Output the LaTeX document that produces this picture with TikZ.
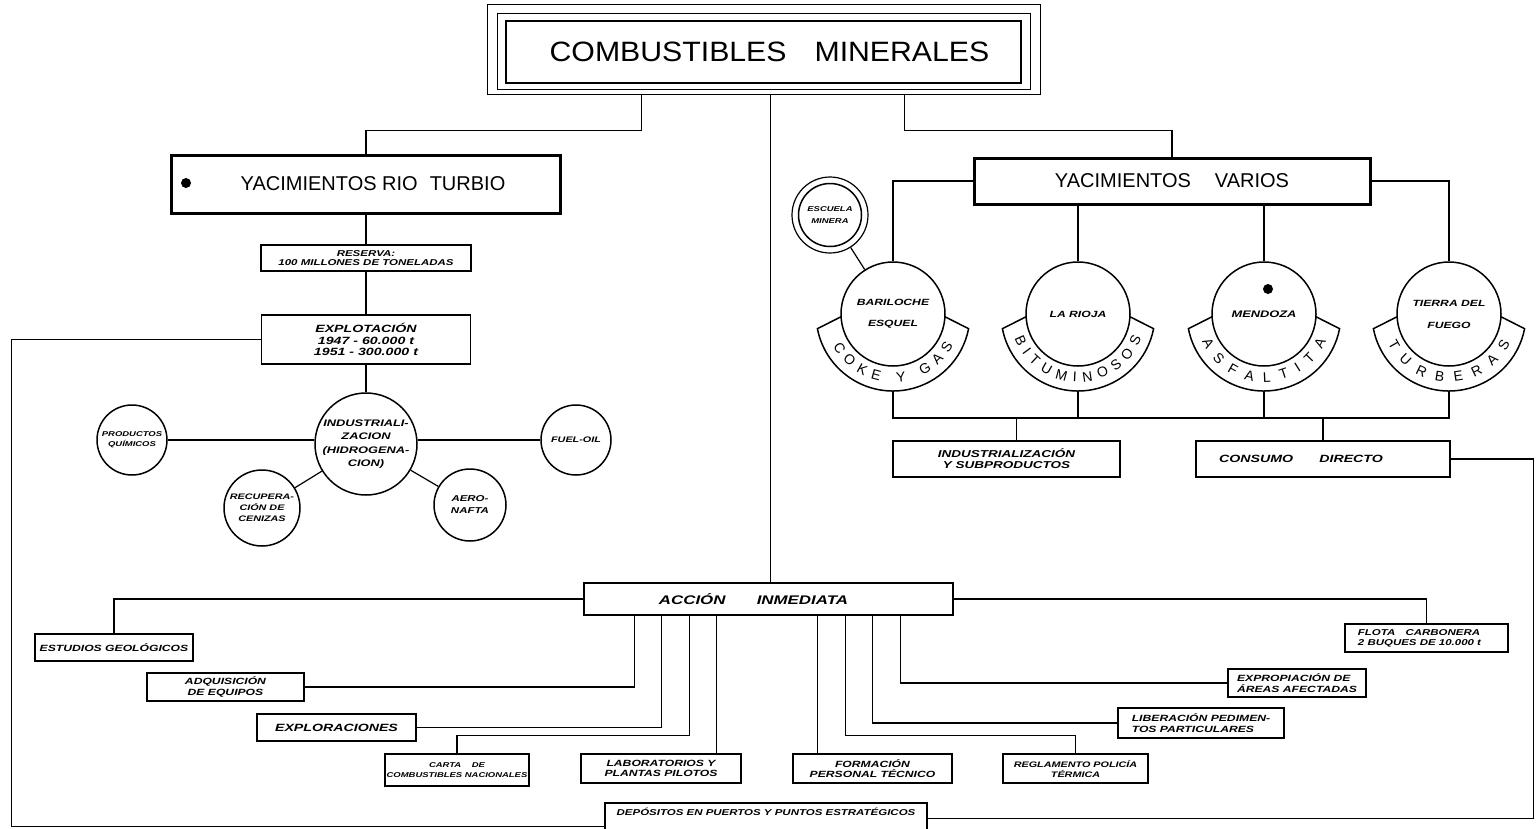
\documentclass[tikz,border=0pt]{standalone}
\usepackage{fontspec}
\setmainfont{Liberation Sans}
\newfontfamily\labf{Liberation Sans}[FakeStretch=1.35]
\newfontfamily\titf{Liberation Sans}[FakeStretch=1.08]
\usetikzlibrary{calc,decorations.text}
\newcommand\bandf{\fontsize{14}{14}\selectfont}
\tikzset{
  conn/.style={line width=1.2pt},
  wh/.style 2 args={minimum width=#1pt, minimum height=#2pt},
  lbox/.style={draw, line width=1.6pt, rectangle, inner sep=1pt, align=center,
    font=\labf\bfseries\itshape\fontsize{9}{10.5}\selectfont},
  bigbox/.style={draw, line width=3pt, rectangle, inner sep=0pt, align=center,
    font=\fontsize{20}{24}\selectfont},
  circ/.style={draw, line width=1.5pt, circle, inner sep=0pt, align=center,
    font=\labf\bfseries\itshape\fontsize{9}{11}\selectfont},
  band/.style={line width=1.5pt},
  dot/.style={circle, fill, inner sep=0pt, minimum size=10pt},
}
\begin{document}
\begin{tikzpicture}[x=1pt,y=1pt]
\fill[white] (0,0) rectangle (1540,-828);
\useasboundingbox (0,0) rectangle (1540,-828);

% title
\node[draw, line width=1pt, wh={553}{90}] (titleout) at (763.5,-49) {};
\node[draw, line width=1pt, wh={533}{76}] (titlemid) at (763.5,-51) {};
\node[draw, line width=2.5pt, wh={515}{62}, font=\titf\fontsize{28}{30}\selectfont] (title) at (763.5,-52) {\hspace*{12pt}COMBUSTIBLES\hspace{1em}MINERALES};
\coordinate (tl) at ($(titleout.south west)+(155,0)$);
\coordinate (tc) at ($(titleout.south west)+(284,0)$);
\coordinate (tr) at ($(titleout.south west)+(418,0)$);

% left: Rio Turbio
\node[bigbox, wh={389}{58}] (rio) at (366,-184) {\hspace*{14pt}YACIMIENTOS RIO\hspace{0.6em}TURBIO};
\node[dot] (riodot) at (186,-183) {};
\node[lbox, wh={210}{26}, font=\labf\bfseries\itshape\fontsize{8.5}{9.5}\selectfont] (res) at (366,-258) {RESERVA:\\100 MILLONES DE TONELADAS};
\node[lbox, wh={209}{49}, font=\labf\bfseries\itshape\fontsize{10.5}{11.5}\selectfont] (expl) at (366,-339.5) {EXPLOTACIÓN\\1947 - 60.000 t\\1951 - 300.000 t};
\node[circ, minimum size=102pt, font=\labf\bfseries\itshape\fontsize{9.5}{13.5}\selectfont] (ind) at (366,-444) {INDUSTRIALI-\\ZACION\\(HIDROGENA-\\CION)};
\node[circ, minimum size=70pt, font=\labf\bfseries\itshape\fontsize{7}{10}\selectfont] (prod) at (132,-440) {PRODUCTOS\\QUÍMICOS};
\node[circ, minimum size=70pt, font=\labf\bfseries\itshape\fontsize{8}{10}\selectfont] (fuel) at (576,-440) {FUEL-OIL};
\node[circ, minimum size=76pt, font=\labf\bfseries\itshape\fontsize{8}{11}\selectfont] (rec) at (262,-508) {RECUPERA-\\CIÓN DE\\CENIZAS};
\node[circ, minimum size=72pt, font=\labf\bfseries\itshape\fontsize{8.5}{12}\selectfont] (aero) at (470,-505) {AERO-\\NAFTA};

\draw[conn] (tl) -- ++(0,-36) -| (rio.north);
\draw[conn] (rio) -- (res);
\draw[conn] (res) -- (expl);
\draw[conn] (expl) -- (ind);
\draw[conn] (prod.east) -- (prod.east -| ind.west);
\draw[conn] (fuel.west) -- (fuel.west -| ind.east);
\draw[conn] (rec) -- (ind);
\draw[conn] (aero) -- (ind);

% right: Yacimientos varios
\node[bigbox, wh={396}{46}] (varios) at (1172,-181) {YACIMIENTOS\hspace{1.2em}VARIOS};
\draw[conn] (tr) -- ++(0,-36) -| (varios.north);
\node[circ, minimum size=104pt, font=\labf\bfseries\itshape\fontsize{9}{21}\selectfont] (bar) at (893,-314) {BARILOCHE\\ESQUEL};
\node[circ, minimum size=104pt] (rioja) at (1078,-314) {LA RIOJA};
\node[circ, minimum size=104pt, font=\labf\bfseries\itshape\fontsize{9.5}{11}\selectfont] (mend) at (1264,-314) {MENDOZA};
\node[dot] (mdot) at ($(mend)+(4,25)$) {};
\node[circ, minimum size=104pt, font=\labf\bfseries\itshape\fontsize{9}{22}\selectfont] (tdf) at (1449,-314) {TIERRA DEL\\FUEGO};
\node[circle, draw, line width=1.2pt, minimum size=76pt, inner sep=0pt] (esco) at (830,-215) {};
\node[circ, minimum size=63pt, font=\labf\bfseries\itshape\fontsize{7}{12}\selectfont] (esc) at (830,-215) {ESCUELA\\MINERA};
\draw[conn] (esco) -- (bar);

\draw[conn] (varios.west) -| (bar.north);
\draw[conn] (varios.east) -| (tdf.north);
\draw[conn] (varios.south -| rioja.north) -- (rioja.north);
\draw[conn] (varios.south -| mend.north) -- (mend.north);

\foreach \n in {bar,rioja,mend,tdf}{
  \draw[band] ($(\n)+(183:52)$) -- ($(\n)+(191:77)$) arc[start angle=191, end angle=349, radius=77] -- ($(\n)+(357:52)$);
}
\path[decorate, decoration={text along path, text={|\bandf|COKE Y GAS}, text align={fit to path}}]
  ($(bar)+(208:68)$) arc[start angle=208, end angle=332, radius=68];
\path[decorate, decoration={text along path, text={|\bandf|BITUMINOSOS}, text align={fit to path}}]
  ($(rioja)+(201:68)$) arc[start angle=201, end angle=339, radius=68];
\path[decorate, decoration={text along path, text={|\bandf|ASFALTITA}, text align={fit to path}}]
  ($(mend)+(204:68)$) arc[start angle=204, end angle=336, radius=68];
\path[decorate, decoration={text along path, text={|\bandf|TURBERAS}, text align={fit to path}}]
  ($(tdf)+(206:68)$) arc[start angle=206, end angle=334, radius=68];

\draw[conn] ($(bar)+(0,-77)$) -- ($(bar)+(0,-104)$) -- ($(tdf)+(0,-104)$) -- ($(tdf)+(0,-77)$);
\draw[conn] ($(rioja)+(0,-77)$) -- ($(rioja)+(0,-104)$);
\draw[conn] ($(mend)+(0,-77)$) -- ($(mend)+(0,-104)$);

\node[lbox, wh={227}{36}, font=\labf\bfseries\itshape\fontsize{10}{11}\selectfont] (indsub) at (1006.5,-459) {INDUSTRIALIZACIÓN\\Y SUBPRODUCTOS};
\node[lbox, wh={254}{36}, font=\labf\bfseries\itshape\fontsize{10.5}{11}\selectfont] (cons) at (1323,-459) {CONSUMO\hspace{2.5em}DIRECTO\hspace*{44pt}};
\draw[conn] ($(indsub.north)+(10,0)$) -- ++(0,23);
\draw[conn] (cons.north) -- ++(0,23);

% accion inmediata
\node[lbox, wh={369}{32}, font=\labf\bfseries\itshape\fontsize{12.5}{13}\selectfont] (acc) at (768.5,-599) {ACCIÓN\hspace{2.5em}INMEDIATA\hspace*{30pt}};
\draw[conn] (tc) -- (tc |- acc.north);

\node[lbox, wh={158}{27}] (est) at (114,-647.5) {ESTUDIOS GEOLÓGICOS};
\node[lbox, wh={157}{28}] (adq) at (225.5,-687) {ADQUISICIÓN\\DE EQUIPOS};
\node[lbox, wh={159}{27}, font=\labf\bfseries\itshape\fontsize{10.5}{11}\selectfont] (explo) at (336.5,-727.5) {EXPLORACIONES};
\node[lbox, wh={144}{32}, font=\labf\bfseries\itshape\fontsize{7}{10}\selectfont] (carta) at (457,-770) {CARTA\hspace{1.5em}DE\\COMBUSTIBLES NACIONALES};
\node[lbox, wh={160}{29}] (lab) at (661,-768.5) {LABORATORIOS Y\\PLANTAS PILOTOS};
\node[lbox, wh={159}{29}] (form) at (872.5,-768.5) {FORMACIÓN\\PERSONAL TÉCNICO};
\node[lbox, wh={145}{29}, font=\labf\bfseries\itshape\fontsize{8}{10}\selectfont] (regl) at (1075.5,-768.5) {REGLAMENTO POLICÍA\\TÉRMICA};
\node[lbox, wh={166}{30}, align=left] (lib) at (1201,-723) {LIBERACIÓN PEDIMEN-\\TOS PARTICULARES};
\node[lbox, wh={138}{28}, align=left] (expr) at (1297,-683) {EXPROPIACIÓN DE\\ÁREAS AFECTADAS};
\node[lbox, wh={163}{28}, align=left, font=\labf\bfseries\itshape\fontsize{8.5}{10}\selectfont] (flota) at (1426.5,-638) {FLOTA\hspace{1.2em}CARBONERA\\2 BUQUES DE 10.000 t\hspace*{14pt}};
\node[lbox, wh={322}{44}, anchor=north, text height=8pt, text depth=26pt, font=\labf\bfseries\itshape\fontsize{8.5}{10}\selectfont] (dep) at (766,-802) {DEPÓSITOS EN PUERTOS Y PUNTOS ESTRATÉGICOS};

\coordinate (a1) at ($(acc.south west)+(51,0)$);
\coordinate (a2) at ($(acc.south west)+(78,0)$);
\coordinate (a3) at ($(acc.south west)+(106,0)$);
\coordinate (a4) at ($(acc.south west)+(133,0)$);
\coordinate (a5) at ($(acc.south west)+(234,0)$);
\coordinate (a6) at ($(acc.south west)+(262,0)$);
\coordinate (a7) at ($(acc.south west)+(289,0)$);
\coordinate (a8) at ($(acc.south west)+(317,0)$);

\draw[conn] (acc.west) -| (est.north);
\draw[conn] (acc.east) -| (flota.north);
\draw[conn] (a1) |- (adq.east);
\draw[conn] (a2) |- (explo.east);
\draw[conn] (a3) |- ($(carta.north)+(0,18)$) -- (carta.north);
\draw[conn] (a4) -- (a4 |- lab.north);
\draw[conn] (a5) -- (a5 |- form.north);
\draw[conn] (a6) |- ($(regl.north)+(0,18)$) -- (regl.north);
\draw[conn] (a7) |- (lib.west);
\draw[conn] (a8) |- (expr.west);

% outer connections to depositos
\draw[conn] (expl.west) -- ++(-249,0) |- ($(dep.west)+(0,-2)$);
\draw[conn] (cons.east) -- ++(83,0) |- ($(dep.east)+(0,6)$);
\end{tikzpicture}
\end{document}
